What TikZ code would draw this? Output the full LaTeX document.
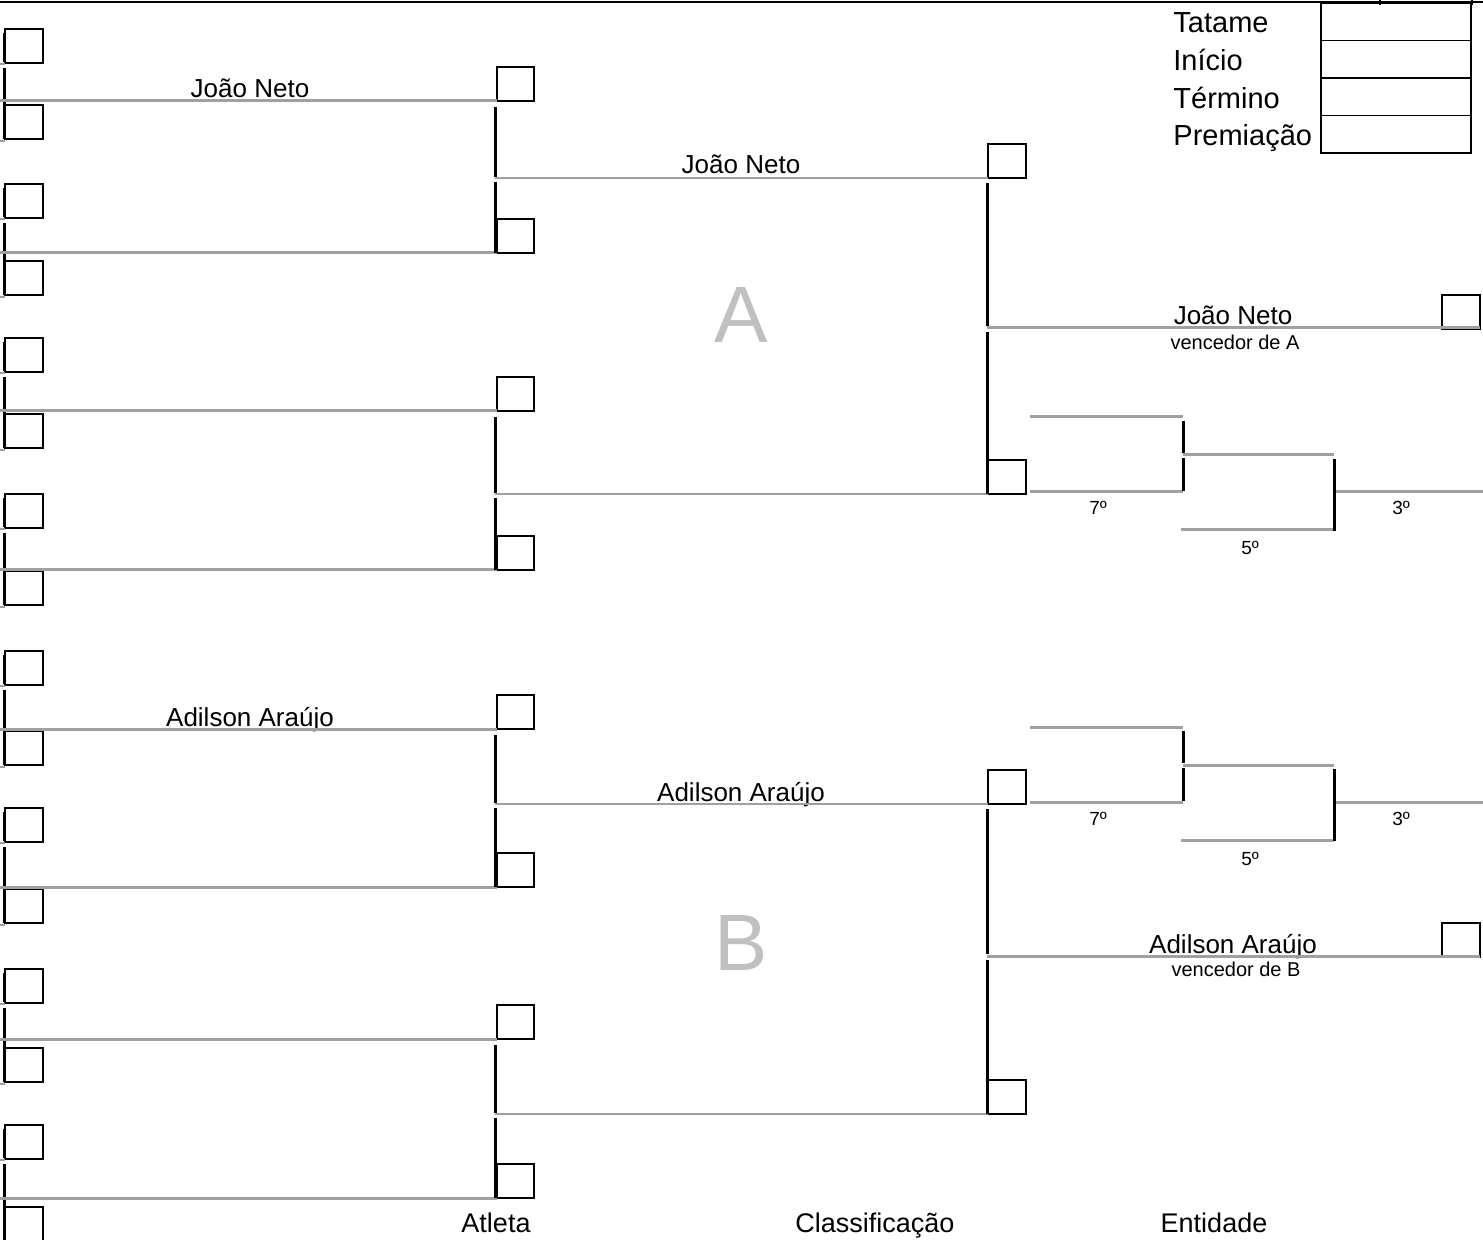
\documentclass[tikz,border=0pt]{standalone}
\usepackage{fontspec}
\setmainfont{Liberation Sans}
\definecolor{lg}{HTML}{A0A0A0}
\definecolor{bigg}{HTML}{C0C0C0}
\begin{document}
\begin{tikzpicture}[x=0.5pt,y=-0.5pt,
  box/.style={draw=black,line width=0.7pt,minimum width=19pt,minimum height=17pt,inner sep=0pt,outer sep=0pt,anchor=north west},
  cell/.style={draw=black,line width=0.7pt,minimum width=75pt,minimum height=18.75pt,inner sep=0pt,outer sep=0pt,anchor=north west},
  gl/.style={draw=lg,line width=1.5pt},
  bl/.style={draw=black,line width=1.5pt},
  nm/.style={font=\fontsize{13}{15}\selectfont,anchor=base,inner sep=0pt},
  sub/.style={font=\fontsize{10}{12}\selectfont,anchor=base,inner sep=0pt},
  plc/.style={font=\fontsize{9.5}{11}\selectfont,anchor=base,inner sep=0pt},
  big/.style={font=\fontsize{40}{44}\selectfont,text=bigg,anchor=base,inner sep=0pt},
  tab/.style={font=\fontsize{14.5}{17}\selectfont,anchor=base west,inner sep=0pt},
  foot/.style={font=\fontsize{13.5}{16}\selectfont,anchor=base,inner sep=0pt}]
\clip (0,0) rectangle (1483,1240);
\fill[white] (0,0) rectangle (1483,1240);
% top rule
\coordinate (tl) at (0,2);
\coordinate (tr) at (1483,2);
\draw[line width=0.75pt] (tl) -- (tr);
\draw[line width=0.6pt] (1380,0) -- (1380,5);
\draw[line width=0.6pt] (1472,0) -- (1472,5);
% texts (drawn below lines)
\node[nm] (n1) at (250,98) {João Neto};
\node[nm] (n2) at (741,174) {João Neto};
\node[nm] (n3) at (1233,325) {João Neto};
\node[sub] (v1) at (1235,350) {vencedor de A};
\node[nm] (n4) at (250,726) {Adilson Araújo};
\node[nm] (n5) at (741,801) {Adilson Araújo};
\node[nm] (n6) at (1233,953) {Adilson Araújo};
\node[sub] (v2) at (1236,976) {vencedor de B};
\node[big] (bigA) at (741,343) {A};
\node[big] (bigB) at (741,970) {B};
% round 1
\foreach \t/\m/\b [count=\i] in {29/101/105, 184/253/261, 338/411/414, 494/570/571, 651/729/731, 808/887/889, 969/1039/1048, 1125/1198/1207} {
  \node[box] (p\i t) at (5,\t) {};
  \node[box] (p\i b) at (5,\b) {};
  \node[box,minimum width=18.5pt] (q\i) at (497,\m-34) {};
  \coordinate (s\i) at (0,\m);
  \draw[bl] (4,\t+4) -- (4,\t+33);
  \draw[bl] (4,\t+39) -- (4,\b+34);
  \draw[gl,line width=1pt] (0,\t+35) -- (5,\t+35);
  \draw[gl,line width=1pt] (0,\b+36) -- (5,\b+36);
  \draw[gl] (s\i) -- (q\i.south west);
}
% round 2
\foreach \a/\M/\c [count=\j] in {101/178/253, 411/494/570, 729/804/887, 1039/1114/1198} {
  \node[box] (r\j) at (988,\M-34) {};
  \coordinate (u\j) at (495,\M);
  \draw[bl] (495,\a+6) -- (495,\M-1);
  \draw[bl] (495,\M+4) -- (495,\c);
  \draw[gl,line width=1.2pt] (u\j) -- (r\j.south west);
}
% round 3 / finals
\foreach \a/\F/\c [count=\k] in {178/328/494, 804/956/1114} {
  \node[box] (f\k) at (1442,\F-33) {};
  \coordinate (w\k) at (987,\F);
  \coordinate (we\k) at (1480,\F);
  \draw[bl] (987,\a+5) -- (987,\F-2);
  \draw[bl] (987,\F+4) -- (987,\c);
  \draw[gl] (w\k) -- (we\k);
}
% repechage brackets
\foreach \d [count=\k] in {0,310} {
  \coordinate (ra\k) at (1030,417+\d);
  \coordinate (rb\k) at (1183,417+\d);
  \coordinate (rc\k) at (1030,492+\d);
  \coordinate (rd\k) at (1183,492+\d);
  \coordinate (re\k) at (1183,455+\d);
  \coordinate (rf\k) at (1334,455+\d);
  \coordinate (rg\k) at (1181,530+\d);
  \coordinate (rh\k) at (1334,530+\d);
  \coordinate (ri\k) at (1334,492+\d);
  \coordinate (rj\k) at (1483,492+\d);
  \draw[gl] (ra\k) -- (rb\k);
  \draw[gl] (rc\k) -- (rd\k);
  \draw[gl] (re\k) -- (rf\k);
  \draw[gl] (rg\k) -- (rh\k);
  \draw[gl] (ri\k) -- (rj\k);
  \draw[bl] (1183,421+\d) -- (1183,453+\d);
  \draw[bl] (1183,458+\d) -- (1183,491+\d);
  \draw[bl] (1334,459+\d) -- (1334,531+\d);
  \node[plc] (p7\k) at (1098,515+\d) {7º};
  \node[plc] (p5\k) at (1250,555+\d) {5º};
  \node[plc] (p3\k) at (1401,515+\d) {3º};
}
% info table
\node[tab] (lt1) at (1173,33) {Tatame};
\node[tab] (lt2) at (1173,71) {Início};
\node[tab] (lt3) at (1173,109) {Término};
\node[tab] (lt4) at (1173,146) {Premiação};
\node[cell] (c1) at (1321,3) {};
\node[cell] (c2) at (1321,40.5) {};
\node[cell] (c3) at (1321,78) {};
\node[cell,line width=0.9pt] (c4) at (1321,115.5) {};
% footer
\node[foot] (ft1) at (496,1232) {Atleta};
\node[foot] (ft2) at (875,1232) {Classificação};
\node[foot] (ft3) at (1214,1232) {Entidade};
\end{tikzpicture}
\end{document}
